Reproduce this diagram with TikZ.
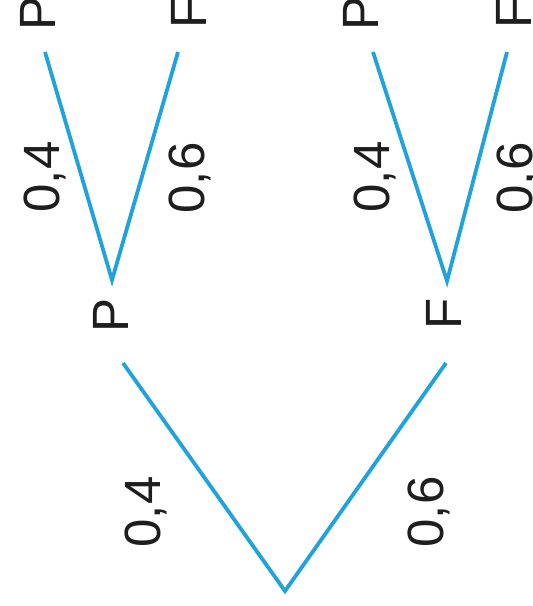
\documentclass[tikz,border=0pt]{standalone}
\usepackage{fontspec}
\setmainfont{Liberation Sans}
\definecolor{branch}{RGB}{32,162,220}
\definecolor{ink}{RGB}{30,30,30}
\tikzset{
  edge/.style={draw=branch, line width=1.9pt},
  lbl/.style={rotate=90, anchor=base, inner sep=0pt, text=ink, font=\fontsize{25.5}{30}\selectfont},
}
\begin{document}
\begin{tikzpicture}[x=0.5pt, y=-0.5pt]
\useasboundingbox (0,0) rectangle (533,606);
% coordinates for branch ends
\coordinate (root) at (285,591);
\coordinate (lP) at (123,363);
\coordinate (lF) at (446,363);
\coordinate (vP) at (112,280);
\coordinate (vF) at (447,281);
\coordinate (tPP) at (45,52);
\coordinate (tPF) at (178,52);
\coordinate (tFP) at (373,52);
\coordinate (tFF) at (507,52);
% nodes
\node[lbl] (nP)  at (128,315) {P};
\node[lbl] (nF)  at (461,314) {F};
\node[lbl] (nPP) at (55,13) {P};
\node[lbl] (nPF) at (206,13) {F};
\node[lbl] (nFP) at (378,13) {P};
\node[lbl] (nFF) at (531,13) {F};
\node[lbl] (p1) at (160,512) {0,4};
\node[lbl] (p2) at (443,512) {0,6};
\node[lbl] (p3) at (60,177) {0,4};
\node[lbl] (p4) at (204,178) {0,6};
\node[lbl] (p5) at (389,177) {0,4};
\node[lbl] (p6) at (532,178) {0,6};
% edges
\draw[edge] (lP) -- (root) -- (lF);
\draw[edge] (tPP) -- (vP) -- (tPF);
\draw[edge] (tFP) -- (vF) -- (tFF);
\end{tikzpicture}
\end{document}
